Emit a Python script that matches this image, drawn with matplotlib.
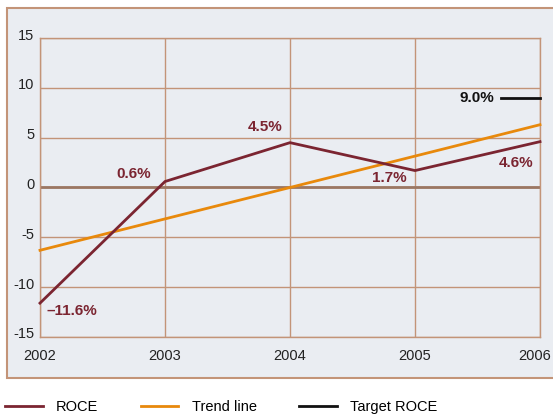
import matplotlib.pyplot as plt
from matplotlib.patches import Rectangle
from matplotlib.lines import Line2D
from matplotlib.transforms import ScaledTranslation

plt.rcParams['font.family'] = ['Liberation Sans', 'DejaVu Sans']
plt.rcParams['axes.unicode_minus'] = False

years = [2002, 2003, 2004, 2005, 2006]
roce = [-11.6, 0.6, 4.5, 1.7, 4.6]
trend = [-6.3, -3.15, 0.0, 3.15, 6.3]
target = 9.0
target_years = [2005.69, 2006]
roce_labels = ['\u201311.6%', '0.6%', '4.5%', '1.7%', '4.6%']
# label offsets in pixels from each point
label_offsets = [(32, -8), (-31, 8), (-25, 16), (-26, -7), (-24, -21)]

c_roce = '#7b2531'
c_trend = '#e8890c'
c_grid = '#c39478'
c_zero = '#9b7763'
c_bg = '#eaedf2'

fig = plt.figure(figsize=(5.53, 4.15), dpi=100)

# outer panel
fig.patches.append(Rectangle((7 / 553, 1 - 378 / 415), 1.2, (378 - 8) / 415,
                             transform=fig.transFigure, facecolor=c_bg,
                             edgecolor=c_grid, linewidth=1.5, zorder=-1))

ax = fig.add_axes([40 / 553, 1 - 337 / 415, 500 / 553, 299 / 415])
ax.set_facecolor(c_bg)
ax.set_xlim(2002, 2006)
ax.set_ylim(-15, 15)
ax.set_xticks(years)
ax.set_yticks(range(-15, 16, 5))
ax.grid(True, color=c_grid, linewidth=1)
ax.set_axisbelow(True)
for s in ax.spines.values():
    s.set_color(c_grid)
    s.set_linewidth(1)
ax.tick_params(length=0, labelsize=10.5, colors='#222222')
ax.tick_params(axis='x', pad=9)
ax.tick_params(axis='y', pad=4)
up = ScaledTranslation(0, 4 / 100, fig.dpi_scale_trans)
for lab in ax.get_yticklabels():
    lab.set_transform(lab.get_transform() + up)
left = ScaledTranslation(-5 / 100, 0, fig.dpi_scale_trans)
last = ax.get_xticklabels()[-1]
last.set_transform(last.get_transform() + left)

ax.axhline(0, color=c_zero, linewidth=2, zorder=1.5)

ax.plot(years, trend, color=c_trend, linewidth=2, clip_on=False, zorder=3)
ax.plot(years, roce, color=c_roce, linewidth=2, clip_on=False, zorder=4)
ax.plot(target_years, [target, target], color='#111111', linewidth=2,
        clip_on=False, zorder=4)

for x, y, t, off in zip(years, roce, roce_labels, label_offsets):
    ax.annotate(t, (x, y), xytext=off, textcoords='offset pixels',
                ha='center', va='center', color=c_roce, fontsize=11,
                fontweight='bold')
ax.annotate('9.0%', (target_years[0], target), xytext=(-7, 0),
            textcoords='offset pixels', ha='right', va='center',
            color='#111111', fontsize=11, fontweight='bold')

handles = [Line2D([], [], color=c_roce, linewidth=2),
           Line2D([], [], color=c_trend, linewidth=2),
           Line2D([], [], color='#111111', linewidth=2)]
fig.legend(handles, ['ROCE', 'Trend line', 'Target ROCE'], ncol=3,
           loc='center left', bbox_to_anchor=(5 / 553, 1 - 407 / 415),
           frameon=False, fontsize=10.5, handlelength=2.6, handletextpad=0.9,
           columnspacing=2.9, borderaxespad=0, borderpad=0)

fig.savefig('out.png', dpi=100)
